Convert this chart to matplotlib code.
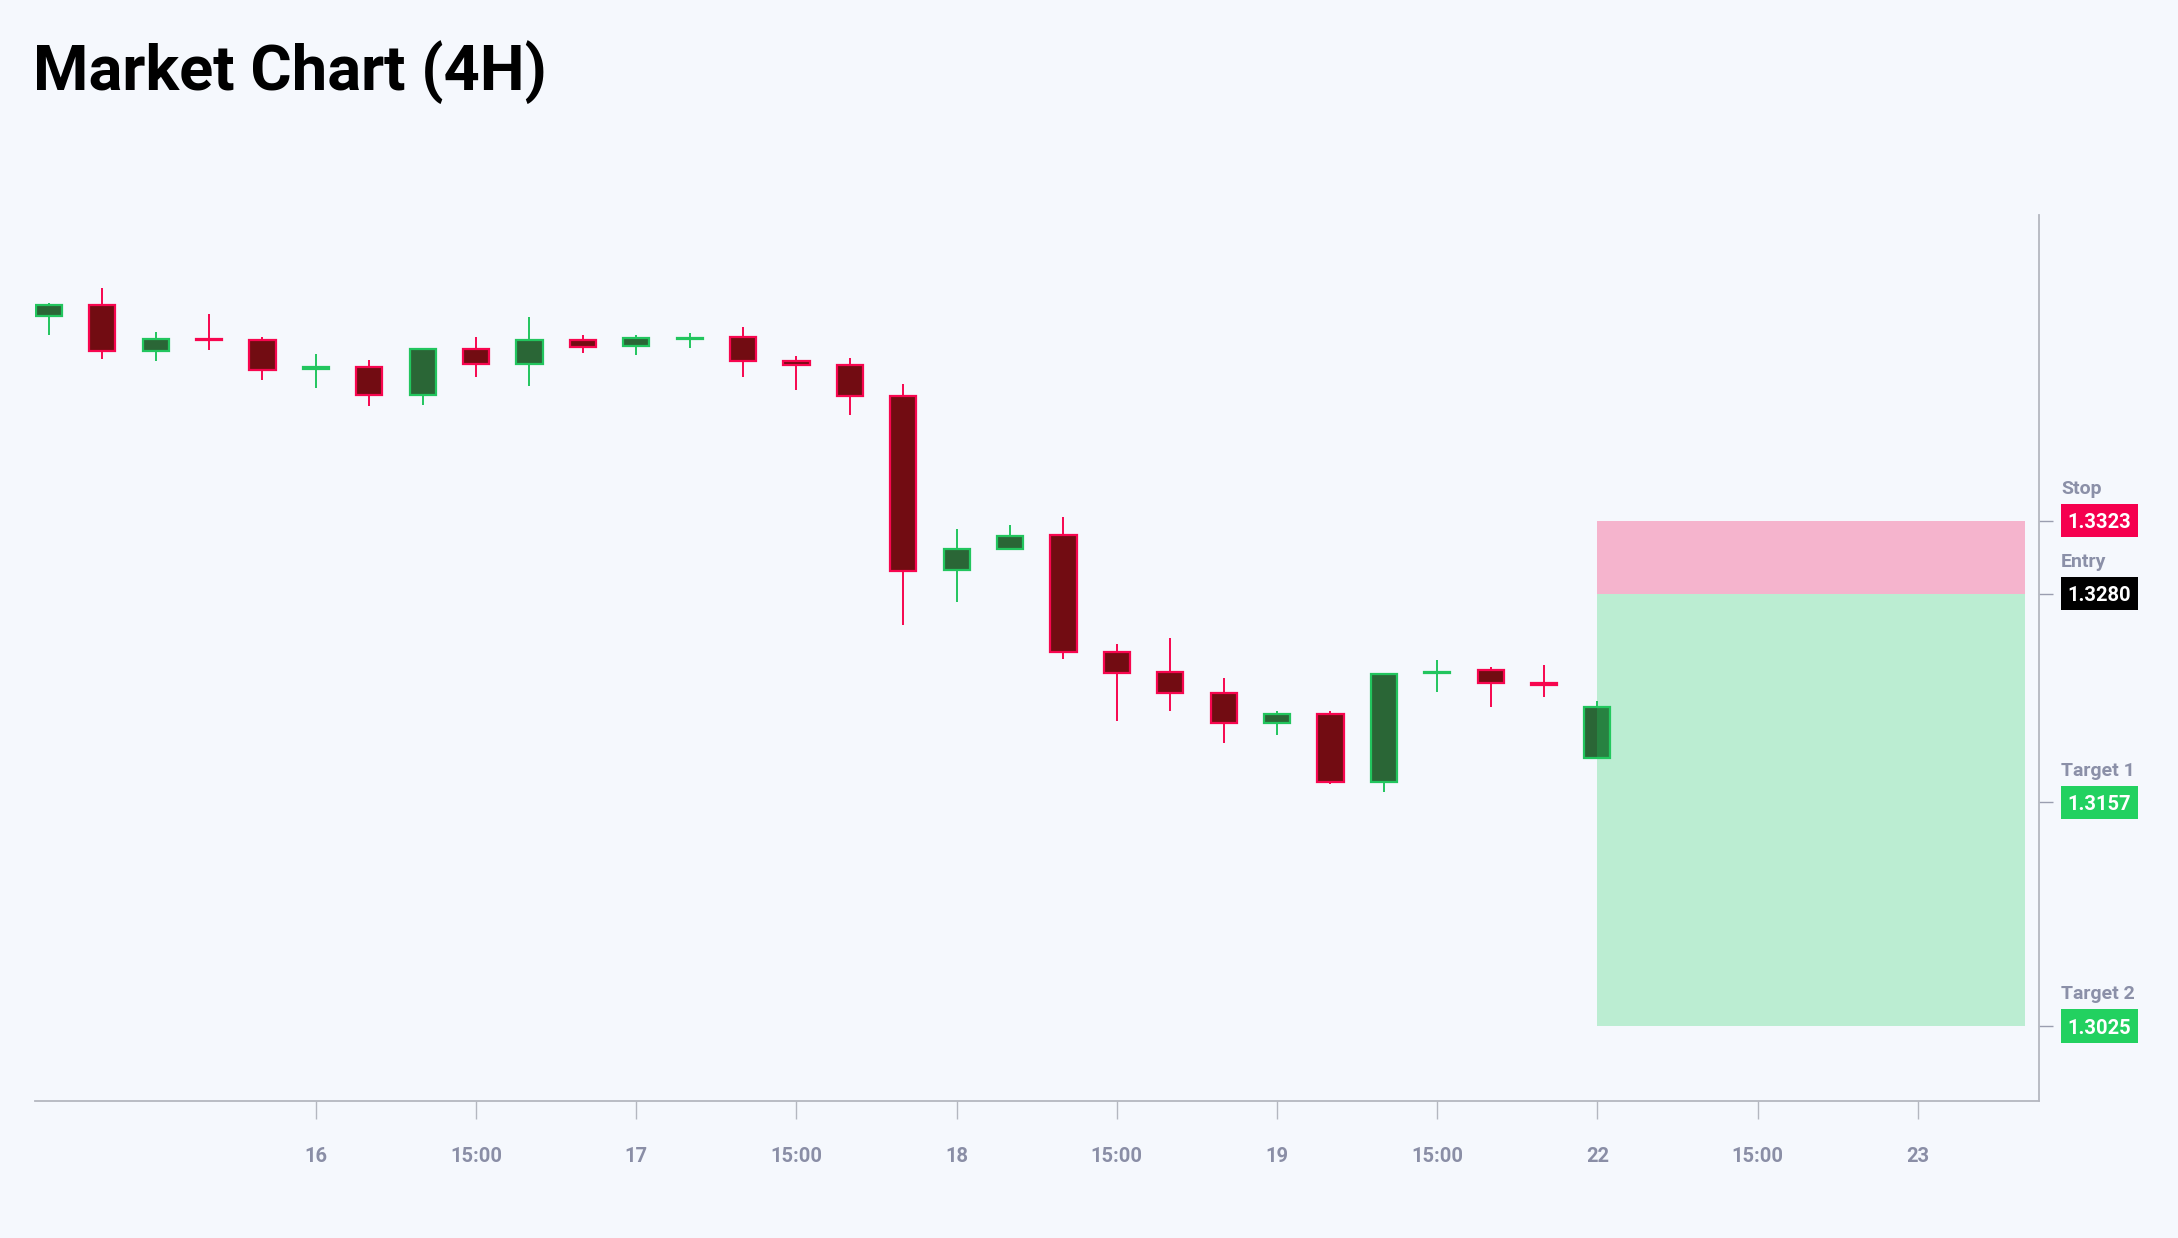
import matplotlib
matplotlib.use("Agg")
import matplotlib.pyplot as plt
from matplotlib.patches import Rectangle
from matplotlib import transforms

# 4H candles
opens = [1.34437, 1.34504, 1.34231, 1.34300, 1.34297, 1.34126, 1.34138, 1.33971, 1.34242, 1.34154,
         1.34296, 1.34262, 1.34300, 1.34311, 1.34173, 1.34148, 1.33967, 1.32939, 1.33063, 1.33145,
         1.32453, 1.32335, 1.32215, 1.32038, 1.32089, 1.31690, 1.32330, 1.32350, 1.32270, 1.31831]
highs = [1.34512, 1.34602, 1.34341, 1.34449, 1.34311, 1.34215, 1.34179, 1.34247, 1.34311, 1.34429,
         1.34325, 1.34325, 1.34337, 1.34370, 1.34199, 1.34188, 1.34036, 1.33181, 1.33204, 1.33253,
         1.32502, 1.32536, 1.32300, 1.32105, 1.32105, 1.32329, 1.32408, 1.32366, 1.32380, 1.32164]
lows = [1.34327, 1.34183, 1.34170, 1.34238, 1.34061, 1.34012, 1.33906, 1.33912, 1.34076, 1.34026,
        1.34219, 1.34209, 1.34248, 1.34079, 1.34001, 1.33853, 1.32616, 1.32748, 1.33060, 1.32415,
        1.32050, 1.32105, 1.31920, 1.31967, 1.31678, 1.31629, 1.32221, 1.32132, 1.32191, 1.31824]
closes = [1.34504, 1.34229, 1.34301, 1.34294, 1.34119, 1.34132, 1.33971, 1.34242, 1.34154, 1.34296,
          1.34252, 1.34307, 1.34308, 1.34170, 1.34146, 1.33965, 1.32935, 1.33063, 1.33141, 1.32456,
          1.32333, 1.32211, 1.32038, 1.32089, 1.31690, 1.32325, 1.32340, 1.32272, 1.32262, 1.32130]

tick_pos = [5, 8, 11, 14, 17, 20, 23, 26, 29, 32, 35]
tick_labels = ['16', '15:00', '17', '15:00', '18', '15:00', '19', '15:00', '22', '15:00', '23']

level_names = ['Stop', 'Entry', 'Target 1', 'Target 2']
level_values = [1.3323, 1.3280, 1.3157, 1.3025]
level_colors = ['#f5004f', '#000000', '#22d160', '#22d160']
zone_start, zone_end = 29, 37

bg = '#f5f8fd'
W, H = 2178, 1238
plt.rcParams['font.family'] = ['Roboto', 'DejaVu Sans']

fig = plt.figure(figsize=(W / 100, H / 100), dpi=100, facecolor=bg)
ax = fig.add_axes([35 / W, 1 - 1100.7 / H, (2039 - 35) / W, (1100.7 - 215.3) / H])
ax.set_facecolor(bg)
ymin, ymax = 1.2981, 1.3503
ax.set_xlim(-0.26, 37.27)
ax.set_ylim(ymin, ymax)

# candles
for i in range(len(opens)):
    o, h, l, c = opens[i], highs[i], lows[i], closes[i]
    if c >= o:
        edge, fill = '#22c55e', '#2a6636'
    else:
        edge, fill = '#f7064f', '#720c12'
    body = max(abs(c - o), 0.0001)
    mid = (o + c) / 2
    ax.vlines(i, l, h, color=edge, lw=1.4, zorder=2)
    ax.add_patch(Rectangle((i - 0.245, mid - body / 2), 0.49, body,
                           facecolor=fill, edgecolor=edge, lw=1.6, zorder=3))

# risk / reward zones
stop, entry, t1, t2 = level_values
ax.add_patch(Rectangle((zone_start, entry), zone_end - zone_start, stop - entry,
                       facecolor='#f5004f', alpha=0.27, lw=0, zorder=4))
ax.add_patch(Rectangle((zone_start, t2), zone_end - zone_start, entry - t2,
                       facecolor='#22d160', alpha=0.27, lw=0, zorder=4))

# axes look
for s in ['top', 'left']:
    ax.spines[s].set_visible(False)
for s in ['bottom', 'right']:
    ax.spines[s].set_color('#b4b7c0')
    ax.spines[s].set_linewidth(1.3)

ax.set_xticks(tick_pos, tick_labels)
ax.tick_params(axis='x', length=13, width=1.0, color='#b4b7c0', pad=20,
               labelsize=14.5, labelcolor='#8a8ea6')
for t in ax.get_xticklabels():
    t.set_fontweight('semibold')
ax.yaxis.tick_right()
ax.set_yticks(level_values, [''] * 4)
ax.tick_params(axis='y', length=10, width=1.0, color='#9a9eb0')

# level labels at the right
px = (ymax - ymin) / (1100.7 - 215.3)
tr = transforms.blended_transform_factory(fig.transFigure, ax.transData)
bx, bw, bh = 2061 / W, 77 / W, 33.3 * px
for name, val, col in zip(level_names, level_values, level_colors):
    ax.add_patch(Rectangle((bx, val - bh / 2), bw, bh, facecolor=col, lw=0,
                           transform=tr, clip_on=False))
    ax.text(bx + bw / 2, val, f'{val:.4f}', transform=tr, ha='center', va='center_baseline',
            color='white', fontsize=14.5, fontweight='bold', clip_on=False)
    ax.text(bx, val + bh / 2 + 10 * px, name, transform=tr, ha='left', va='baseline',
            color='#8b90a8', fontsize=14, fontweight='semibold', clip_on=False)

fig.text(33 / W, 1 - 90 / H, 'Market Chart (4H)', fontsize=45.5, fontweight='bold',
         va='baseline', color='black')

fig.savefig('out.png', dpi=100, facecolor=bg)
